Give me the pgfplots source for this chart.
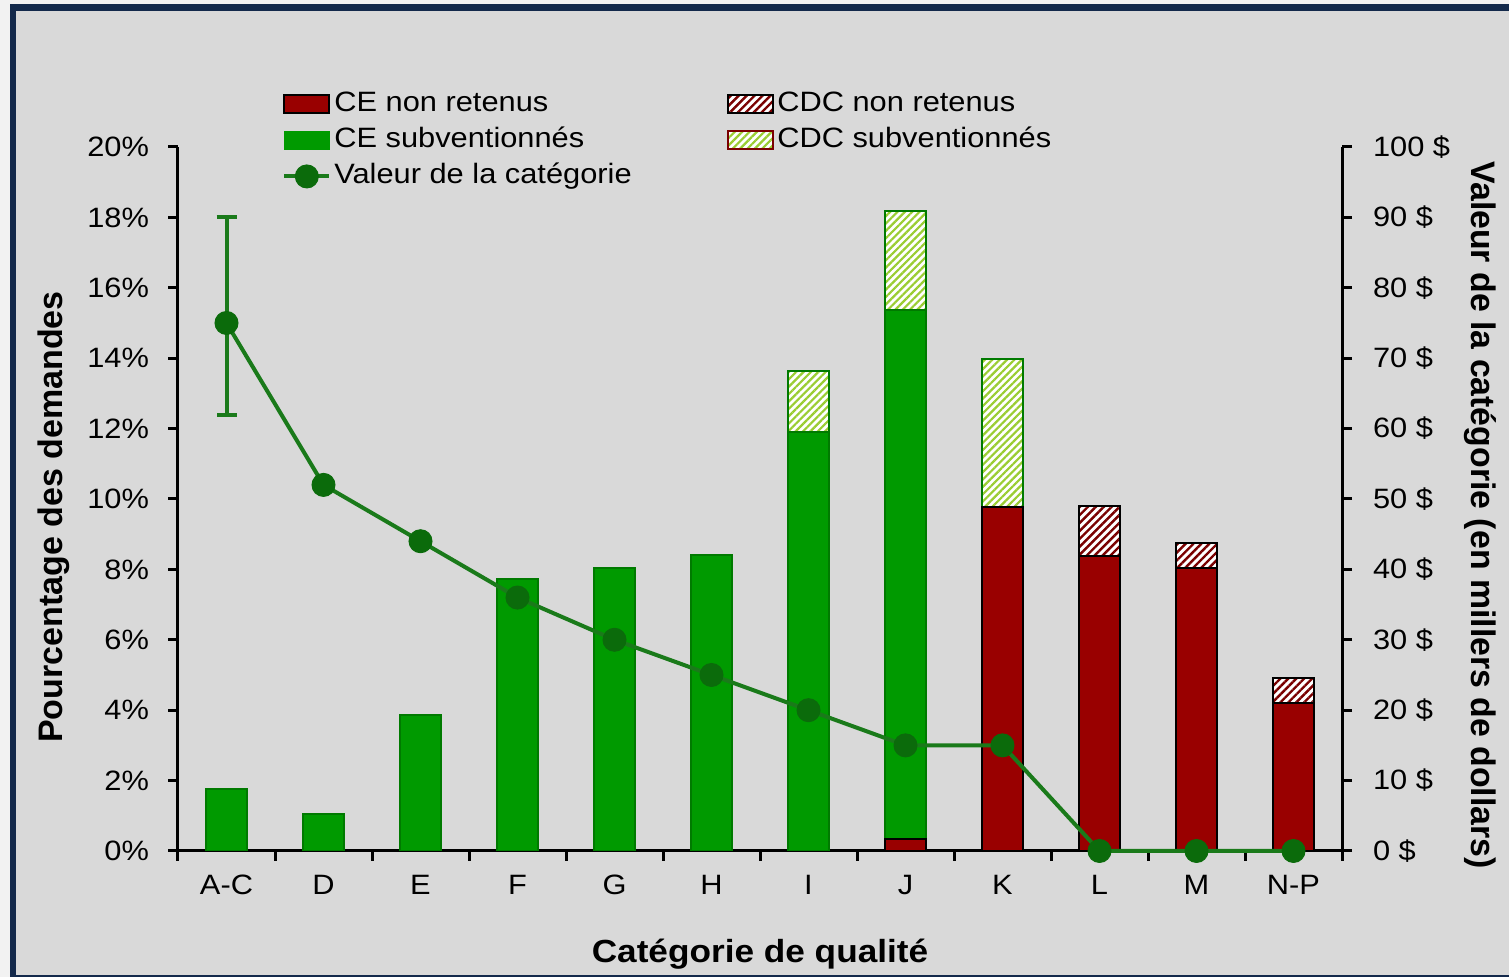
\documentclass[border=0pt]{standalone}
\usepackage{graphicx}
\usepackage{pgfplots}
\pgfplotsset{compat=1.18}
\usepackage{fontspec}
\setmainfont{Liberation Sans}[FakeStretch=1.1]
\usetikzlibrary{patterns.meta}
\definecolor{bgray}{HTML}{D9D9D9}
\definecolor{navy}{HTML}{13294B}
\definecolor{outerbg}{HTML}{F2F2F2}
\definecolor{barred}{HTML}{990000}
\definecolor{bargreen}{HTML}{009A00}
\definecolor{greenedge}{HTML}{007A00}
\definecolor{linegreen}{HTML}{1A7A1A}
\definecolor{markgreen}{HTML}{0B6B0B}
\definecolor{hatchgreen}{HTML}{9ACD32}
\definecolor{hatchred}{HTML}{7A0000}

\pgfplotsset{
  redbar/.style={fill=barred, draw=black, line width=1pt},
  greenbar/.style={fill=bargreen, draw=greenedge, line width=0.8pt},
  redhatch/.style={fill=white, draw=black, line width=1pt,
    postaction={pattern={Lines[angle=45,distance=2.8pt,line width=1.2pt]}, pattern color=hatchred}},
  greenhatch/.style={fill=white, draw=greenedge, line width=1pt,
    postaction={pattern={Lines[angle=45,distance=2.6pt,line width=1.1pt]}, pattern color=hatchgreen}},
  boxlegend/.style={legend image code/.code={\draw[##1] (0pt,-4.5pt) rectangle (22.5pt,4.5pt);}},
  linelegend/.style={legend image code/.code={\draw[mark repeat=2,mark phase=2,##1] plot coordinates {(0pt,0pt) (11.25pt,0pt) (22.5pt,0pt)};}},
  common/.style={
    scale only axis, width=582pt, height=352pt,
    at={(89pt,63pt)}, anchor=south west,
    xmin=-0.5, xmax=11.5,
    axis line style={line width=1.5pt, black, -},
    tick style={line width=1.5pt, black},
    tick align=outside, major tick length=5pt, minor tick length=5pt,
    /pgf/number format/assume math mode=true,
    ticklabel style={font=\fontsize{14}{16}\selectfont, text=black},
  },
}

\begin{document}
\begin{tikzpicture}
\fill[outerbg] (0,0) rectangle (754.5pt,488.5pt);
\fill[navy] (5pt,0pt) rectangle (754.5pt,486.5pt);
\fill[bgray] (8pt,1pt) rectangle (754.5pt,483pt);

% Bars (left axis)
\begin{axis}[common,
  ybar, bar width=20.5pt,
  ymin=0, ymax=20,
  axis x line*=bottom, axis y line*=left,
  xtick={0,...,11},
  xticklabels={A-C,D,E,F,G,H,I,J,K,L,M,N-P},
  major x tick style={draw=none},
  minor xtick={-0.5,0.5,...,11.5},
  xticklabel style={yshift=-3.5pt},
  ytick={0,2,...,20},
  yticklabel={\pgfmathprintnumber{\tick}\%},
  yticklabel style={xshift=-6pt},
  xlabel={Catégorie de qualité},
  xlabel style={font=\bfseries\fontsize{16}{19}\selectfont, at={(axis description cs:0.5,-0.146)}, anchor=center},
  ylabel={\scalebox{0.909}[1]{Pourcentage des demandes}},
  ylabel style={font=\bfseries\fontsize{17}{20}\selectfont, at={(axis description cs:-0.1065,0.4744)}, anchor=center},
]
% CDC subventionnes (cumulative top)
\addplot[greenhatch, bar shift=0pt] coordinates {(6,13.64) (7,18.18) (8,13.98)};
% CDC non retenus (cumulative top)
\addplot[redhatch, bar shift=0pt] coordinates {(9,9.80) (10,8.75) (11,4.91)};
% CE subventionnes (cumulative top)
\addplot[greenbar, bar shift=0pt] coordinates {(0,1.76) (1,1.05) (2,3.86) (3,7.73) (4,8.04) (5,8.41) (6,11.90) (7,15.37)};
% CE non retenus
\addplot[redbar, bar shift=0pt] coordinates {(7,0.34) (8,9.77) (9,8.38) (10,8.04) (11,4.20)};
\end{axis}

% Line (right axis)
\begin{axis}[common,
  clip=false,
  ymin=0, ymax=100,
  axis x line=none, axis y line*=right,
  ytick={0,10,...,100},
  yticklabel={\pgfmathprintnumber{\tick}~\$},
  yticklabel style={xshift=7pt},
  ylabel={\scalebox{0.905}[1]{Valeur de la catégorie (en millers de dollars)}},
  ylabel style={font=\bfseries\fontsize{17}{20}\selectfont, at={(axis description cs:1.1186,0.477)}, anchor=center, rotate=180},
  legend columns=2,
  legend cell align=left,
  legend style={at={(axis description cs:0.0893,1.0823)}, anchor=north west,
    draw=none, fill=none, inner sep=0pt,
    font=\fontsize{14}{16}\selectfont,
    nodes={inner xsep=1.5pt, inner ysep=1pt, text height=10pt, text depth=3pt},
    row sep=3pt, column sep=0pt},
]
\addlegendimage{boxlegend, fill=barred, draw=black, line width=1pt}
\addlegendentry{\makebox[195pt][l]{CE non retenus}}
\addlegendimage{boxlegend, redhatch}
\addlegendentry{CDC non retenus}
\addlegendimage{boxlegend, fill=bargreen, draw=bargreen, line width=0.8pt}
\addlegendentry{\makebox[195pt][l]{CE subventionnés}}
\addlegendimage{boxlegend, fill=white, draw=hatchred, line width=1pt,
    postaction={pattern={Lines[angle=45,distance=2.6pt,line width=1.1pt]}, pattern color=hatchgreen}}
\addlegendentry{CDC subventionnés}

\addplot[forget plot, draw=none, mark=none,
  error bars/.cd, y dir=both, y explicit,
  error bar style={line width=2pt, linegreen},
  error mark options={rotate=90, mark size=5pt, line width=2pt, linegreen}]
  coordinates {(0,75) += (0,15) -= (0,13)};

\addplot[linelegend, linegreen, line width=2pt, mark=*, mark size=5.75pt,
  mark options={fill=markgreen, draw=markgreen, line width=0.5pt}]
  coordinates {(0,75) (1,52) (2,44) (3,36) (4,30) (5,25) (6,20) (7,15) (8,15) (9,0) (10,0) (11,0)};
\addlegendentry{\makebox[195pt][l]{Valeur de la catégorie}}
\end{axis}

\pgfresetboundingbox
\useasboundingbox (0,0) rectangle (754.5pt,488.5pt);
\end{tikzpicture}
\end{document}
